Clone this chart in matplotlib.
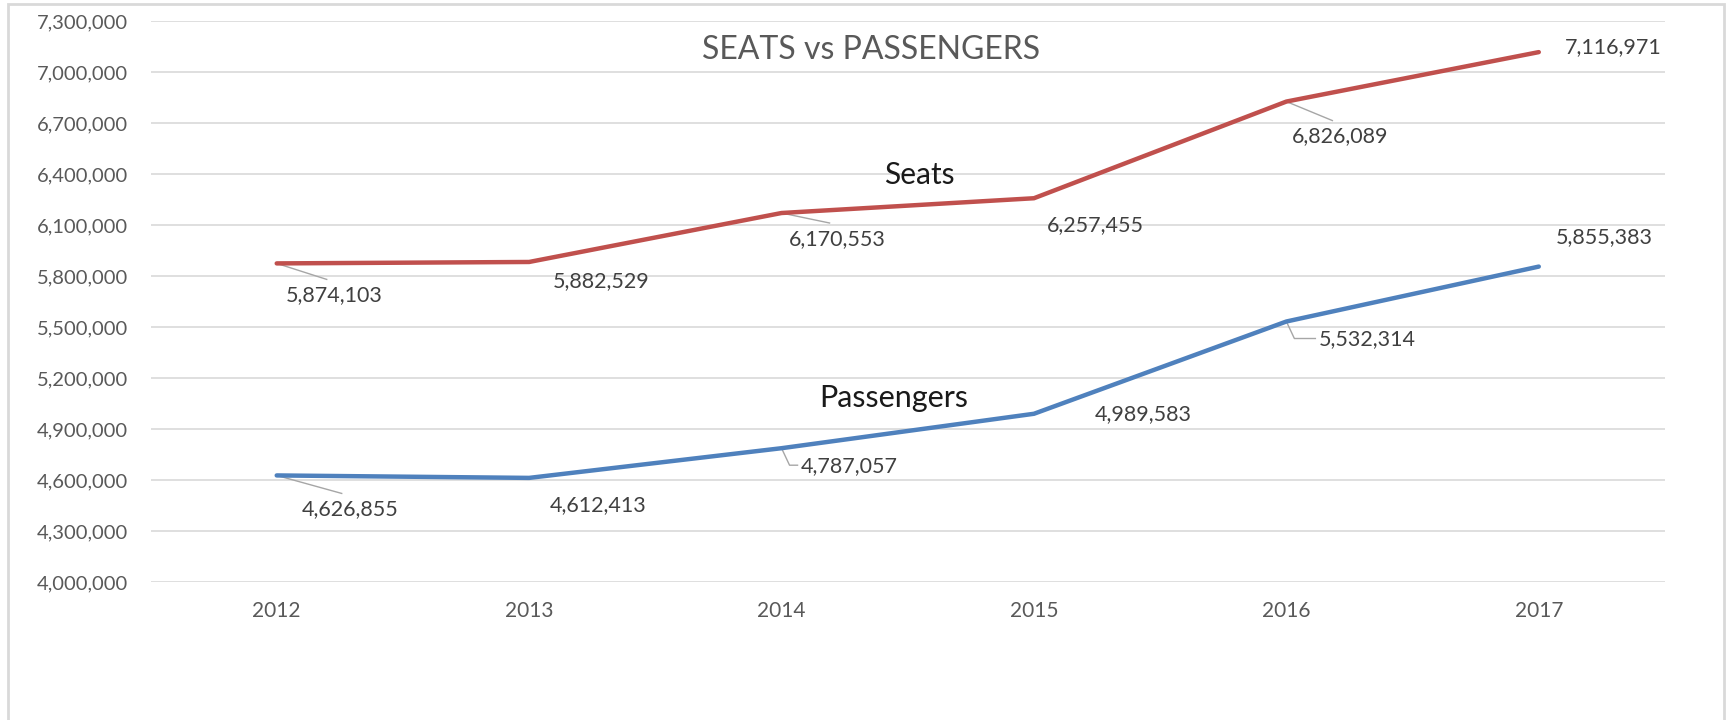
import matplotlib
matplotlib.use("Agg")
import matplotlib.pyplot as plt
from matplotlib.ticker import FuncFormatter
from matplotlib.patches import Rectangle

years = ["2012", "2013", "2014", "2015", "2016", "2017"]
seats = [5874103, 5882529, 6170553, 6257455, 6826089, 7116971]
passengers = [4626855, 4612413, 4787057, 4989583, 5532314, 5855383]
y_ticks = [4000000, 4300000, 4600000, 4900000, 5200000, 5500000,
           5800000, 6100000, 6400000, 6700000, 7000000, 7300000]

# label offsets in pixels (dx right, dy down) relative to each point
seat_off = [(58, 32), (72, 19), (56, 26), (61, 27), (54, 35), (74, -5)]
pass_off = [(73, 34), (69, 27), (68, 18), (109, 0), (81, 18), (65, -29)]
seat_leader = ["line", None, "line", None, "line", None]
pass_leader = ["line", None, "elbow", None, "elbow", None]

plt.rcParams['font.family'] = ['Lato', 'DejaVu Sans']

W, H = 1735, 720
fig = plt.figure(figsize=(W / 100, H / 100), dpi=100)
fig.patch.set_facecolor("white")

left, right, top, bottom = 150.5, 1665, 21, 582
ax = fig.add_axes([left / W, 1 - bottom / H, (right - left) / W, (bottom - top) / H])

# outer chart frame
fig.patches.append(Rectangle((8 / W, -0.05), (1724 - 8) / W, 1.05 - 4 / H,
                             transform=fig.transFigure, fill=False,
                             edgecolor="#d9d9d9", linewidth=2, zorder=0))

x = list(range(len(years)))
ax.plot(x, seats, color="#C0504D", linewidth=3.2, solid_capstyle="round", zorder=3)
ax.plot(x, passengers, color="#4F81BD", linewidth=3.2, solid_capstyle="round", zorder=3)

ax.set_xlim(-0.5, len(years) - 0.5)
ax.set_ylim(y_ticks[0], y_ticks[-1])
ax.set_yticks(y_ticks)
ax.yaxis.set_major_formatter(FuncFormatter(lambda v, p: f"{int(round(v)):,}"))
ax.set_xticks(x)
ax.set_xticklabels(years)
ax.grid(axis="y", color="#d9d9d9", linewidth=1.2)
ax.set_axisbelow(True)
for s in ax.spines.values():
    s.set_visible(False)
ax.tick_params(axis="both", length=0, colors="#595959")
ax.tick_params(axis="y", labelsize=14.5, pad=16)
ax.tick_params(axis="x", labelsize=15, pad=14)

lab_color = "#404040"
lead_color = "#a6a6a6"


def add_labels(values, offs, leaders):
    for i, (v, (dx, dy), ld) in enumerate(zip(values, offs, leaders)):
        ax.annotate(f"{v:,}", xy=(i, v), xytext=(dx, -dy), textcoords="offset pixels",
                    ha="center", va="center", fontsize=15.5, color=lab_color, zorder=4)
        if ld:
            px, py = ax.transData.transform((i, v))
            if ld == "elbow":
                pts = [(px, py), (px + 8, py - (dy - 1)), (px + dx - 52, py - (dy - 1))]
            else:
                pts = [(px, py), (px + dx - 8, py - (dy - 16))]
            inv = ax.transData.inverted()
            dpts = [inv.transform(p) for p in pts]
            ax.plot([p[0] for p in dpts], [p[1] for p in dpts], color=lead_color,
                    linewidth=1, zorder=2)


fig.canvas.draw()
add_labels(seats, seat_off, seat_leader)
add_labels(passengers, pass_off, pass_leader)

fig.text(871 / W, 1 - 50 / H, "SEATS vs PASSENGERS", ha="center", va="center",
         fontsize=23, color="#595959")
fig.text(919 / W, 1 - 175 / H, "Seats", ha="center", va="center",
         fontsize=21.5, color="#1a1a1a")
fig.text(894 / W, 1 - 398 / H, "Passengers", ha="center", va="center",
         fontsize=22, color="#1a1a1a")

fig.savefig("out.png", dpi=100, facecolor="white")
